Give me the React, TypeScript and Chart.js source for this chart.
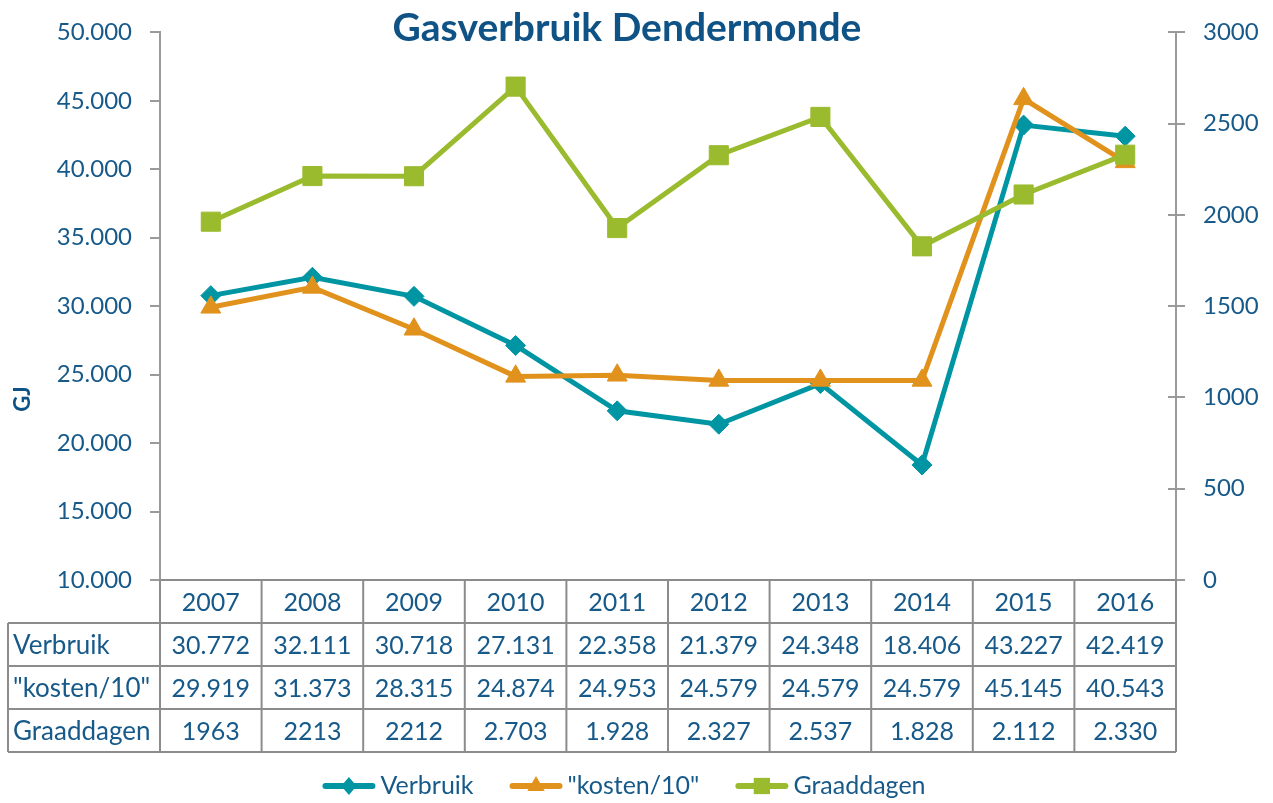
import React, { useEffect, useRef } from 'react';
import { Chart, registerables } from 'chart.js';

Chart.register(...registerables);

const years = ['2007', '2008', '2009', '2010', '2011', '2012', '2013', '2014', '2015', '2016'];
const verbruik = [30772, 32111, 30718, 27131, 22358, 21379, 24348, 18406, 43227, 42419];
const kosten = [29919, 31373, 28315, 24874, 24953, 24579, 24579, 24579, 45145, 40543];
const graaddagen = [1963, 2213, 2212, 2703, 1928, 2327, 2537, 1828, 2112, 2330];
const graaddagenLabels = ['1963', '2213', '2212', '2.703', '1.928', '2.327', '2.537', '1.828', '2.112', '2.330'];
const seriesNames = ['Verbruik', '"kosten/10"', 'Graaddagen'];
const chartTitle = 'Gasverbruik Dendermonde';
const leftAxisTitle = 'GJ';

const TEXT = '#175a8a';
const TITLE = '#0f5285';
const AXIS = '#9a9a9a';
const GRID = '#8c8c8c';
const TEAL = '#0095a3';
const ORANGE = '#e0921c';
const GREEN = '#9bbb2f';
const FONT = 'Lato';

const fmt = (n: number) => String(Math.round(n)).replace(/\B(?=(\d{3})+(?!\d))/g, '.');

function drawMarker(ctx: CanvasRenderingContext2D, style: string, x: number, y: number, r: number) {
  ctx.beginPath();
  if (style === 'rectRot') {
    ctx.moveTo(x, y - r);
    ctx.lineTo(x + r * 0.85, y);
    ctx.lineTo(x, y + r);
    ctx.lineTo(x - r * 0.85, y);
  } else if (style === 'triangle') {
    ctx.moveTo(x, y - r);
    ctx.lineTo(x + r * 0.866, y + r * 0.5);
    ctx.lineTo(x - r * 0.866, y + r * 0.5);
  } else {
    const s = r * Math.SQRT1_2;
    ctx.rect(x - s, y - s, 2 * s, 2 * s);
  }
  ctx.closePath();
  ctx.fill();
}

const extras = {
  id: 'extras',
  afterDraw(chart: any) {
    const ctx: CanvasRenderingContext2D = chart.ctx;
    const { left, right, bottom } = chart.chartArea;
    const xs = chart.scales.x;
    const y1 = chart.scales.y1;
    const n = years.length;
    const colW = (right - left) / n;
    const rowH = 43;
    const tableLeft = 8;
    const rows = [
      { label: seriesNames[0], values: verbruik.map(fmt) },
      { label: seriesNames[1], values: kosten.map(fmt) },
      { label: seriesNames[2], values: graaddagenLabels },
    ];
    ctx.save();

    // inner ticks of right axis
    ctx.strokeStyle = AXIS;
    ctx.lineWidth = 2;
    y1.ticks.forEach((t: any) => {
      const py = Math.round(y1.getPixelForValue(t.value));
      ctx.beginPath();
      ctx.moveTo(right - 8, py);
      ctx.lineTo(right, py);
      ctx.stroke();
    });

    // table grid
    ctx.strokeStyle = GRID;
    ctx.lineWidth = 2;
    const tableBottom = bottom + rowH * 4;
    ctx.beginPath();
    ctx.moveTo(left, bottom);
    ctx.lineTo(right, bottom);
    for (let r = 1; r <= 4; r++) {
      const yy = bottom + rowH * r;
      ctx.moveTo(tableLeft, yy);
      ctx.lineTo(right, yy);
    }
    for (let c = 0; c <= n; c++) {
      const xx = left + colW * c;
      ctx.moveTo(xx, bottom);
      ctx.lineTo(xx, tableBottom);
    }
    ctx.moveTo(tableLeft, bottom + rowH);
    ctx.lineTo(tableLeft, tableBottom);
    ctx.stroke();

    // table text
    ctx.fillStyle = TEXT;
    ctx.textBaseline = 'middle';
    ctx.textAlign = 'center';
    ctx.font = `25px ${FONT}`;
    years.forEach((yr, i) => {
      ctx.fillText(yr, xs.getPixelForValue(i), bottom + rowH / 2 + 1);
    });
    rows.forEach((row, r) => {
      const cy = bottom + rowH * (r + 1) + rowH / 2 + 1;
      ctx.textAlign = 'left';
      ctx.font = `26px ${FONT}`;
      ctx.fillText(row.label, tableLeft + 5, cy);
      ctx.textAlign = 'center';
      ctx.font = `25px ${FONT}`;
      row.values.forEach((v, i) => ctx.fillText(v, xs.getPixelForValue(i), cy));
    });

    // title
    ctx.fillStyle = TITLE;
    ctx.font = `bold 39px ${FONT}`;
    ctx.textAlign = 'center';
    ctx.fillText(chartTitle, 627, 28);

    // left axis title
    ctx.save();
    ctx.translate(23, 399);
    ctx.rotate(-Math.PI / 2);
    ctx.font = `bold 22px ${FONT}`;
    ctx.fillStyle = TITLE;
    ctx.fillText(leftAxisTitle, 0, 0);
    ctx.restore();

    // legend
    const colors = [TEAL, ORANGE, GREEN];
    const styles = ['rectRot', 'triangle', 'rect'];
    const radii = [9, 10, 11.5];
    ctx.font = `25px ${FONT}`;
    const lineW = 53;
    const textGap = 5;
    const gap = 36;
    const widths = seriesNames.map((s) => lineW + textGap + ctx.measureText(s).width);
    const total = widths.reduce((a, b) => a + b, 0) + gap * (widths.length - 1);
    let x = 624 - total / 2;
    const ly = 786;
    seriesNames.forEach((name, i) => {
      ctx.strokeStyle = colors[i];
      ctx.fillStyle = colors[i];
      ctx.lineWidth = 6;
      ctx.lineCap = 'round';
      ctx.beginPath();
      ctx.moveTo(x + 3, ly);
      ctx.lineTo(x + lineW - 3, ly);
      ctx.stroke();
      drawMarker(ctx, styles[i], x + lineW / 2, ly, radii[i]);
      ctx.fillStyle = TEXT;
      ctx.textAlign = 'left';
      ctx.fillText(name, x + lineW + textGap, ly);
      x += widths[i] + gap;
    });
    ctx.restore();
  },
};

export default function App() {
  const ref = useRef<HTMLCanvasElement>(null);
  useEffect(() => {
    if (!ref.current) return;
    Chart.defaults.font.family = FONT;
    const chart = new Chart(ref.current, {
      type: 'line',
      data: {
        labels: years,
        datasets: [
          {
            label: seriesNames[0],
            data: verbruik,
            yAxisID: 'y',
            borderColor: TEAL,
            backgroundColor: TEAL,
            borderWidth: 5,
            pointStyle: 'rectRot',
            pointRadius: 10,
            pointBorderWidth: 1,
            pointBackgroundColor: TEAL,
            pointBorderColor: TEAL,
            tension: 0,
            order: 3,
          },
          {
            label: seriesNames[1],
            data: kosten,
            yAxisID: 'y',
            borderColor: ORANGE,
            backgroundColor: ORANGE,
            borderWidth: 5,
            pointStyle: 'triangle',
            pointRadius: 11.5,
            pointBorderWidth: 1,
            pointBackgroundColor: ORANGE,
            pointBorderColor: ORANGE,
            tension: 0,
            order: 2,
          },
          {
            label: seriesNames[2],
            data: graaddagen,
            yAxisID: 'y1',
            borderColor: GREEN,
            backgroundColor: GREEN,
            borderWidth: 5,
            pointStyle: 'rect',
            pointRadius: 13.5,
            pointBorderWidth: 1,
            pointBackgroundColor: GREEN,
            pointBorderColor: GREEN,
            tension: 0,
            order: 1,
          },
        ],
      },
      options: {
        responsive: false,
        animation: false,
        layout: { padding: { left: 0, right: 0, top: 30, bottom: 223 } },
        plugins: {
          legend: { display: false },
          tooltip: { enabled: false },
          title: { display: false },
        },
        scales: {
          x: { type: 'category', display: false, offset: true },
          y: {
            type: 'linear',
            position: 'left',
            min: 10000,
            max: 50000,
            ticks: {
              stepSize: 5000,
              callback: (v: any) => fmt(Number(v)),
              color: TEXT,
              font: { size: 24, family: FONT },
              padding: 18,
            },
            grid: { drawOnChartArea: false, drawTicks: true, tickLength: 10, color: AXIS, lineWidth: 2 },
            border: { display: true, color: AXIS, width: 2 },
            afterFit: (s: any) => {
              s.width = 160;
            },
          },
          y1: {
            type: 'linear',
            position: 'right',
            min: 0,
            max: 3000,
            ticks: {
              stepSize: 500,
              callback: (v: any) => String(v),
              color: TEXT,
              font: { size: 24, family: FONT },
              padding: 18,
            },
            grid: { drawOnChartArea: false, drawTicks: true, tickLength: 9, color: AXIS, lineWidth: 2 },
            border: { display: true, color: AXIS, width: 2 },
            afterFit: (s: any) => {
              s.width = 97;
            },
          },
        },
      },
      plugins: [extras],
    } as any);
    return () => chart.destroy();
  }, []);
  return (
    <div style={{ position: 'fixed', left: 0, top: 0, width: 1273, height: 803, background: '#fff' }}>
      <canvas ref={ref} width={1273} height={803} style={{ display: 'block' }} />
    </div>
  );
}
